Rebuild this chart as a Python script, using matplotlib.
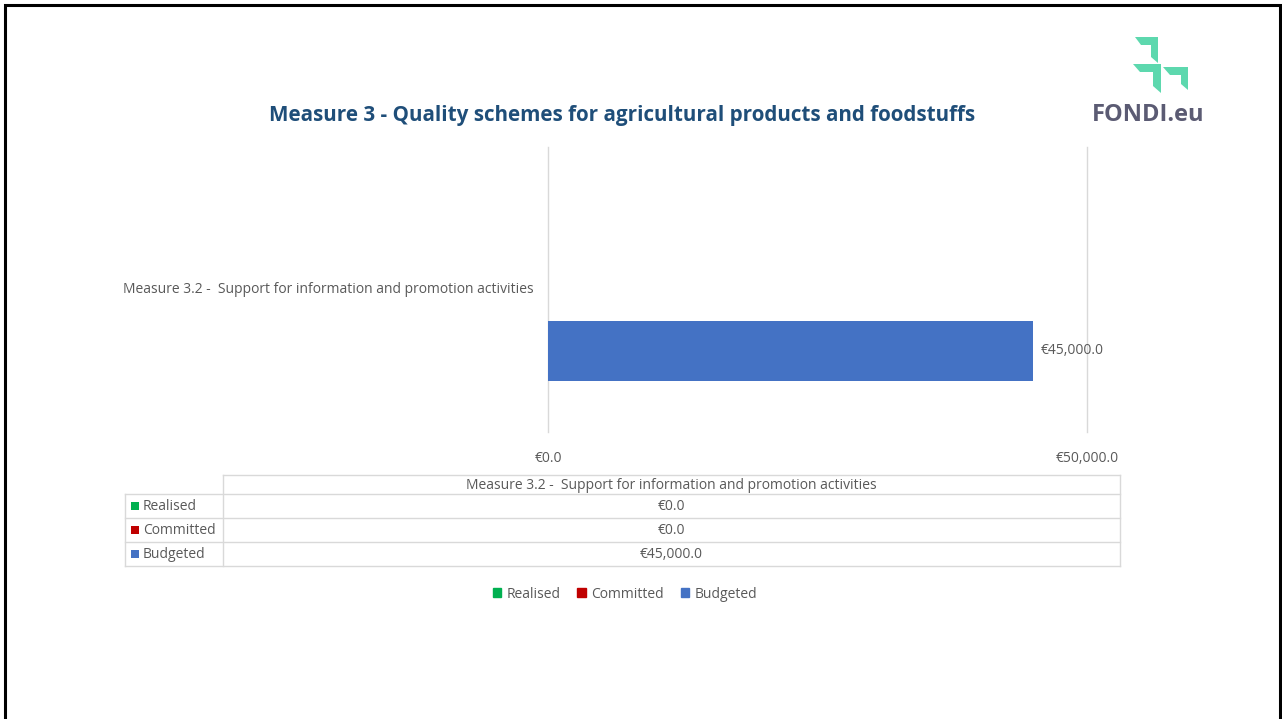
import matplotlib.pyplot as plt
from matplotlib.patches import Patch, Polygon, Rectangle
from matplotlib.lines import Line2D

plt.rcParams['font.family'] = ['Open Sans', 'DejaVu Sans']

# data
categories = ["Measure 3.2 -  Support for information and promotion activities"]
series = ["Realised", "Committed", "Budgeted"]
values = {"Realised": [0.0], "Committed": [0.0], "Budgeted": [45000.0]}
colors = {"Realised": "#00B050", "Committed": "#C00000", "Budgeted": "#4472C4"}
xticks = [0, 50000]

W, H = 1282, 719
fig = plt.figure(figsize=(W / 100, H / 100), dpi=100)
gray = "#595959"
grid = "#D9D9D9"

def fx(px):
    return px / W

def fy(py):
    return 1 - py / H

def euro(v):
    return "€{:,.1f}".format(v)

# frame
fig.add_artist(Rectangle((fx(5), fy(730)), fx(1275), 725 / H, transform=fig.transFigure,
                         fill=False, ec="black", lw=2.2))

# main axes
ax = fig.add_axes([fx(548), fy(432), fx(1087 - 548), (432 - 147) / H])
ax.set_xlim(0, 50000)
ax.set_ylim(0.5, -0.5)
offsets = [-0.215, 0.0, 0.215]
bh = 0.212
for i, s in enumerate(series):
    for j, v in enumerate(values[s]):
        y = j + offsets[i]
        ax.barh(y, v, height=bh, color=colors[s])
        if v > 0:
            ax.text(v + 700, y, euro(v), va="center", ha="left", fontsize=10, color=gray)
for t in xticks:
    ax.axvline(t, color=grid, lw=1, zorder=0, clip_on=False)
ax.set_xticks(xticks)
ax.set_xticklabels([euro(t) for t in xticks], fontsize=10, color=gray)
ax.tick_params(axis="x", length=0, pad=14)
ax.set_yticks([])
for sp in ax.spines.values():
    sp.set_visible(False)
for j, c in enumerate(categories):
    ax.text(-0.027, 0.5 - j * 1.0, c, transform=ax.transAxes, ha="right", va="center",
            fontsize=10, color=gray)

# title
fig.text(fx(622), fy(116), "Measure 3 - Quality schemes for agricultural products and foodstuffs",
         ha="center", va="center", fontsize=14.85, fontweight="bold", color="#1F4E79")

# logo
green = "#5DD8AE"
logo_polys = [
    [(1135, 37), (1158, 37), (1158, 63), (1151, 57), (1151, 45), (1141, 45)],
    [(1133, 64), (1161, 64), (1161, 93), (1153, 86), (1153, 72), (1140, 72)],
    [(1163, 67), (1188, 67), (1188, 90), (1181, 84), (1181, 75), (1170, 75)],
]
for pts in logo_polys:
    fig.add_artist(Polygon([(fx(x), fy(y)) for x, y in pts], closed=True,
                           transform=fig.transFigure, color=green, lw=0))
fig.text(fx(1148), fy(115), "FONDI.eu", ha="center", va="center", fontsize=17,
         fontweight="bold", color="#5B5B73")

# data table
tl, tc, tr = 125, 223, 1120
rows_y = [475, 494, 518, 542, 566]

def hline(x0, x1, y):
    fig.add_artist(Line2D([fx(x0), fx(x1)], [fy(y), fy(y)], transform=fig.transFigure, color=grid, lw=1))

def vline(x, y0, y1):
    fig.add_artist(Line2D([fx(x), fx(x)], [fy(y0), fy(y1)], transform=fig.transFigure, color=grid, lw=1))

hline(tc, tr, rows_y[0])
for y in rows_y[1:]:
    hline(tl, tr, y)
vline(tl, rows_y[1], rows_y[-1])
vline(tc, rows_y[0], rows_y[-1])
vline(tr, rows_y[0], rows_y[-1])
fig.text(fx((tc + tr) / 2), fy((rows_y[0] + rows_y[1]) / 2 + 1), categories[0], ha="center", va="center",
         fontsize=10, color=gray)
for i, s in enumerate(series):
    yc = (rows_y[i + 1] + rows_y[i + 2]) / 2
    fig.add_artist(Rectangle((fx(131), fy(yc + 4)), fx(8), 8 / H, transform=fig.transFigure,
                             color=colors[s], lw=0))
    fig.text(fx(143), fy(yc), s, ha="left", va="center", fontsize=10, color=gray)
    fig.text(fx((tc + tr) / 2), fy(yc), euro(values[s][0]), ha="center", va="center",
             fontsize=10, color=gray)

# legend
handles = [Patch(color=colors[s], label=s) for s in series]
fig.legend(handles=handles, loc="center", bbox_to_anchor=(fx(625), fy(594)), ncol=3, frameon=False,
           fontsize=10, labelcolor=gray, handlelength=0.6, handleheight=0.6, handletextpad=0.4,
           columnspacing=1.2)

fig.savefig("out.png", dpi=100)
